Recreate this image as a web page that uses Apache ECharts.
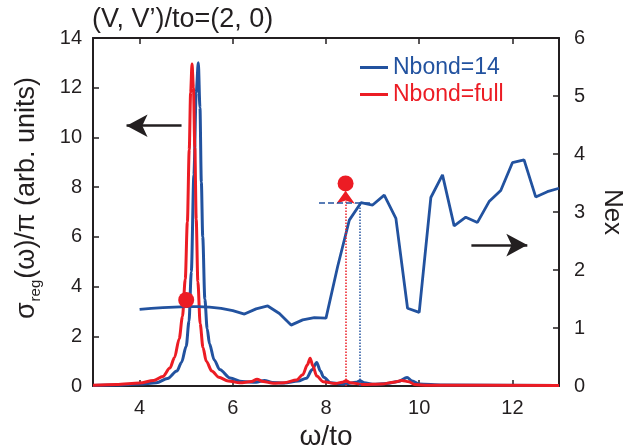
<!DOCTYPE html>
<html>
<head>
<meta charset="utf-8">
<script src="https://cdn.jsdelivr.net/npm/echarts@6/dist/echarts.min.js"></script>
<style>html,body{margin:0;padding:0;background:#fff}#c{width:637px;height:448px}</style>
</head>
<body>
<div id="c"></div>
<script>
// ---- data ----
const xTicks = [4, 6, 8, 10, 12];
const leftTicks = [0, 2, 4, 6, 8, 10, 12, 14];
const rightTicks = [0, 1, 2, 3, 4, 5, 6];

// sigma_reg(omega)/pi, Nbond=14  [omega, value]
const specNb14 = [
  [3.0,0.02],[3.5,0.04],[4.0,0.08],[4.36,0.13],[4.6,0.3],[4.8,0.6],[4.9,0.95],[5.0,1.6],
  [5.06,2.6],[5.11,4.6],[5.165,8.5],[5.215,11.8],[5.26,13.0],[5.295,11.2],[5.325,8.2],[5.355,6.0],
  [5.4,3.5],[5.45,2.3],[5.5,1.7],[5.6,1.05],[5.72,0.66],[5.94,0.32],[6.2,0.18],[6.5,0.15],
  [6.68,0.22],[6.85,0.14],[7.1,0.12],[7.4,0.2],[7.58,0.31],[7.7,0.65],[7.8,0.95],[7.88,0.6],
  [7.95,0.35],[8.1,0.13],[8.4,0.08],[8.65,0.15],[8.73,0.21],[8.82,0.13],[9.0,0.07],[9.3,0.1],
  [9.55,0.18],[9.74,0.34],[9.85,0.2],[10.0,0.08],[10.5,0.04],[13.0,0.02]
];
// sigma_reg(omega)/pi, Nbond=full
const specFull = [
  [3.0,0.03],[3.5,0.06],[4.0,0.12],[4.3,0.22],[4.5,0.38],[4.65,0.72],[4.75,1.15],[4.85,1.9],
  [4.92,2.8],[4.98,4.3],[5.025,6.6],[5.065,9.5],[5.095,11.8],[5.125,12.95],[5.155,12.0],[5.185,9.6],
  [5.215,6.7],[5.25,4.2],[5.3,2.5],[5.36,1.55],[5.43,1.0],[5.55,0.6],[5.7,0.35],[5.9,0.2],
  [6.15,0.13],[6.4,0.18],[6.52,0.27],[6.65,0.18],[6.87,0.11],[7.1,0.13],[7.37,0.24],[7.5,0.45],
  [7.6,0.85],[7.66,1.12],[7.72,0.8],[7.8,0.4],[7.94,0.17],[8.2,0.1],[8.35,0.15],[8.43,0.21],
  [8.52,0.13],[8.8,0.06],[9.2,0.08],[9.45,0.15],[9.63,0.22],[9.78,0.17],[9.9,0.06],[10.2,0.03],
  [13.0,0.02]
];
// Nex (right axis), Nbond=14
const nexNb14 = [
  [4.0,1.32],[4.25,1.34],[4.5,1.35],[4.75,1.36],[5.0,1.37],[5.25,1.37],[5.5,1.36],[5.75,1.34],
  [6.0,1.30],[6.25,1.24],[6.5,1.33],[6.75,1.38],[7.0,1.25],[7.25,1.05],[7.5,1.14],[7.75,1.18],
  [8.0,1.17],[8.25,2.06],[8.5,2.86],[8.75,3.16],[9.0,3.12],[9.25,3.29],[9.5,2.89],[9.75,1.34],
  [10.0,1.27],[10.25,3.25],[10.5,3.64],[10.75,2.76],[11.0,2.91],[11.25,2.82],[11.5,3.18],[11.75,3.37],
  [12.0,3.85],[12.25,3.90],[12.5,3.26],[12.75,3.35],[13.0,3.41]
];
// highlighted points on the left axis
const redDots = [[5.0, 3.46], [8.42, 8.15]];
// guide lines
const redGuideX = 8.42, redGuideTop = 7.85;
const blueGuideX = 8.73, blueGuideLevel = 3.16, blueGuideFrom = 7.85, blueGuideTo = 9.0;
// annotation arrows (start, tip)
const leftArrow = [[4.9, 10.47], [3.72, 10.47]];   // left axis coords
const rightArrow = [[11.12, 2.43], [12.32, 2.43]]; // right axis coords

// ---- chart ----
const BLUE = '#22529f', RED = '#ec1c24', INK = '#231f20';
const FONT = 'Liberation Sans, Arial, Helvetica, sans-serif';
const chart = echarts.init(document.getElementById('c'), null, {renderer: 'canvas'});

const axisLine = {show: true, onZero: false, lineStyle: {color: INK, width: 2}};
const tickStyle = {inside: true, length: 6, lineStyle: {color: INK, width: 1.5}};

chart.setOption({
  animation: false,
  backgroundColor: '#fff',
  textStyle: {fontFamily: FONT},
  title: {
    text: '(V, V\u2019)/to=(2, 0)', left: 87, top: 1,
    textStyle: {fontFamily: FONT, fontSize: 27, fontWeight: 'normal', color: INK}
  },
  legend: {
    orient: 'vertical', left: 355, top: 51, itemGap: 4,
    icon: 'rect', itemWidth: 28, itemHeight: 3,
    textStyle: {fontFamily: FONT, fontSize: 23},
    data: [
      {name: 'Nbond=14', textStyle: {color: BLUE}},
      {name: 'Nbond=full', textStyle: {color: RED}}
    ]
  },
  grid: {left: 93, right: 78, top: 38, bottom: 62, containLabel: false, outerBoundsMode: 'none'},
  xAxis: [{
    type: 'value', min: 3, max: 13, position: 'bottom',
    name: '\u03c9/to', nameLocation: 'middle', nameGap: 31,
    nameTextStyle: {fontFamily: FONT, fontSize: 28, color: INK},
    axisLine: axisLine,
    axisTick: Object.assign({customValues: xTicks}, tickStyle),
    axisLabel: {customValues: xTicks, margin: 12, fontSize: 20, color: INK, fontFamily: FONT},
    splitLine: {show: false}
  }, {
    type: 'value', min: 3, max: 13, position: 'top',
    axisLine: axisLine,
    axisTick: Object.assign({customValues: xTicks}, tickStyle),
    axisLabel: {show: false},
    splitLine: {show: false}
  }],
  yAxis: [{
    type: 'value', min: 0, max: 14, interval: 2, position: 'left',
    name: '{a|\u03c3}{b|reg}{a|(\u03c9)/\u03c0 (arb. units)}',
    nameLocation: 'middle', nameGap: 50, nameRotate: 90,
    nameTextStyle: {
      color: INK, fontFamily: FONT, padding: [0, 0, 0, 28],
      rich: {
        a: {fontSize: 27, fontFamily: FONT, color: INK, lineHeight: 32},
        b: {fontSize: 15, fontFamily: FONT, color: INK, lineHeight: 32, verticalAlign: 'bottom', padding: [9, 1, 0, 1]}
      }
    },
    axisLine: axisLine,
    axisTick: tickStyle,
    axisLabel: {margin: 11, fontSize: 20, color: INK, fontFamily: FONT},
    splitLine: {show: false}
  }, {
    type: 'value', min: 0, max: 6, interval: 1, position: 'right',
    name: 'Nex', nameLocation: 'middle', nameGap: 40, nameRotate: -90,
    nameTextStyle: {fontFamily: FONT, fontSize: 26, color: INK},
    axisLine: axisLine,
    axisTick: tickStyle,
    axisLabel: {margin: 15, fontSize: 20, color: INK, fontFamily: FONT},
    splitLine: {show: false}
  }],
  series: [
    {
      name: 'Nbond=14', type: 'line', xAxisIndex: 0, yAxisIndex: 0,
      data: specNb14, showSymbol: false, symbol: 'none', smooth: 0.3, smoothMonotone: 'x',
      lineStyle: {color: BLUE, width: 3}, itemStyle: {color: BLUE}, z: 2,
      markLine: {
        silent: true, symbol: ['none', 'none'], label: {show: false},
        lineStyle: {color: BLUE, width: 1.5, type: 'dotted'},
        data: [[{coord: [blueGuideX, 0]}, {coord: [blueGuideX, blueGuideLevel * 14 / 6]}]]
      }
    },
    {
      name: 'Nbond=full', type: 'line', xAxisIndex: 0, yAxisIndex: 0,
      data: specFull, showSymbol: false, symbol: 'none', smooth: 0.3, smoothMonotone: 'x',
      lineStyle: {color: RED, width: 3}, itemStyle: {color: RED}, z: 3,
      markLine: {
        silent: true, label: {show: false}, symbol: ['none', 'arrow'], symbolSize: [14, 13],
        lineStyle: {color: RED, width: 1.5, type: 'dotted'},
        data: [
          [{coord: [redGuideX, 0]}, {coord: [redGuideX, redGuideTop]}]
        ]
      }
    },
    {
      name: 'Nex', type: 'line', xAxisIndex: 0, yAxisIndex: 1,
      data: nexNb14, showSymbol: false, symbol: 'none',
      lineStyle: {color: BLUE, width: 2.8}, itemStyle: {color: BLUE}, z: 4,
      markLine: {
        silent: true, label: {show: false}, symbol: ['none', 'none'],
        lineStyle: {color: BLUE, width: 1.5, type: 'dashed'},
        data: [
          [{coord: [blueGuideFrom, blueGuideLevel]}, {coord: [blueGuideTo, blueGuideLevel]}]
        ]
      }
    },
    {
      name: 'arrowL', type: 'line', xAxisIndex: 0, yAxisIndex: 0, data: [], z: 5,
      markLine: {
        silent: true, label: {show: false}, symbol: ['none', 'arrow'], symbolSize: [17, 21],
        lineStyle: {color: INK, width: 2.5, type: 'solid'},
        data: [[{coord: leftArrow[0]}, {coord: leftArrow[1]}]]
      }
    },
    {
      name: 'arrowR', type: 'line', xAxisIndex: 0, yAxisIndex: 1, data: [], z: 5,
      markLine: {
        silent: true, label: {show: false}, symbol: ['none', 'arrow'], symbolSize: [17, 21],
        lineStyle: {color: INK, width: 2.5, type: 'solid'},
        data: [[{coord: rightArrow[0]}, {coord: rightArrow[1]}]]
      }
    },
    {
      name: 'dots', type: 'scatter', xAxisIndex: 0, yAxisIndex: 0,
      data: redDots, symbolSize: 16, itemStyle: {color: RED, opacity: 1}, z: 6, silent: true
    }
  ]
});
</script>
</body>
</html>
